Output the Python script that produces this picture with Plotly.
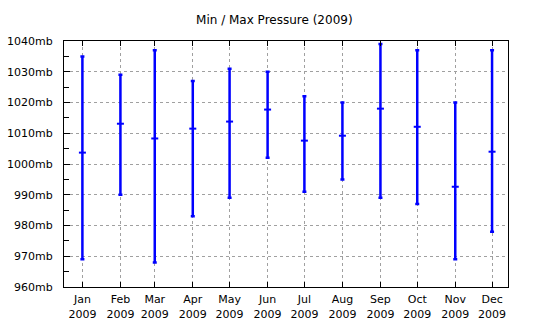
import plotly.graph_objects as go

months = ["Jan", "Feb", "Mar", "Apr", "May", "Jun", "Jul", "Aug", "Sep", "Oct", "Nov", "Dec"]
dates = ["2009-%02d-01" % (i + 1) for i in range(12)]
p_max = [1035, 1029, 1037, 1027, 1031, 1030, 1022, 1020, 1039, 1037, 1020, 1037]
p_mid = [1003.7, 1013.1, 1008.3, 1011.5, 1013.8, 1017.7, 1007.6, 1009.2, 1018.0, 1012.1, 992.6, 1004.0]
p_min = [969, 990, 968, 983, 989, 1002, 991, 995, 989, 987, 969, 978]
tick_text = [m + "<br>2009" for m in months]
y_ticks = list(range(960, 1041, 10))
y_text = ["%dmb" % v for v in y_ticks]

blue = "#0000ff"
fig = go.Figure()
fig.add_trace(go.Scatter(
    x=dates, y=p_mid, mode="markers",
    marker=dict(symbol="line-ew", size=5, line=dict(color=blue, width=2), color=blue),
    error_y=dict(type="data", symmetric=False,
                 array=[h - m for h, m in zip(p_max, p_mid)],
                 arrayminus=[m - l for m, l in zip(p_mid, p_min)],
                 color=blue, thickness=2.5, width=2),
    showlegend=False, hoverinfo="skip",
))

font = dict(family="DejaVu Sans", size=11, color="black")
fig.update_layout(
    width=540, height=330,
    margin=dict(l=64, r=32, t=41, b=43),
    paper_bgcolor="white", plot_bgcolor="white",
    font=font,
    title=dict(text="Min / Max Pressure (2009)", x=0.508, xanchor="center", y=0.94, yanchor="middle",
               font=dict(family="DejaVu Sans", size=12, color="black")),
    xaxis=dict(type="date", range=["2008-12-17", "2009-12-14"],
               tickvals=dates, ticktext=tick_text, tickangle=0, automargin=False,
               showgrid=True, gridcolor="#a0a0a0", griddash="dot", gridwidth=1,
               ticks="inside", ticklen=5, tickcolor="black", ticklabelstandoff=2,
               showline=True, linecolor="black", linewidth=1, mirror="ticks",
               zeroline=False, fixedrange=True),
    yaxis=dict(range=[960, 1040], tickvals=y_ticks, ticktext=y_text, automargin=False,
               showgrid=True, gridcolor="#a0a0a0", griddash="dot", gridwidth=1,
               ticks="inside", ticklen=6, tickcolor="black", ticklabelstandoff=8,
               minor=dict(dtick=5, tick0=960, ticks="inside", ticklen=5, tickcolor="black", showgrid=False),
               showline=True, linecolor="black", linewidth=1, mirror=True,
               zeroline=False, fixedrange=True),
)
fig.write_html("out.html")
